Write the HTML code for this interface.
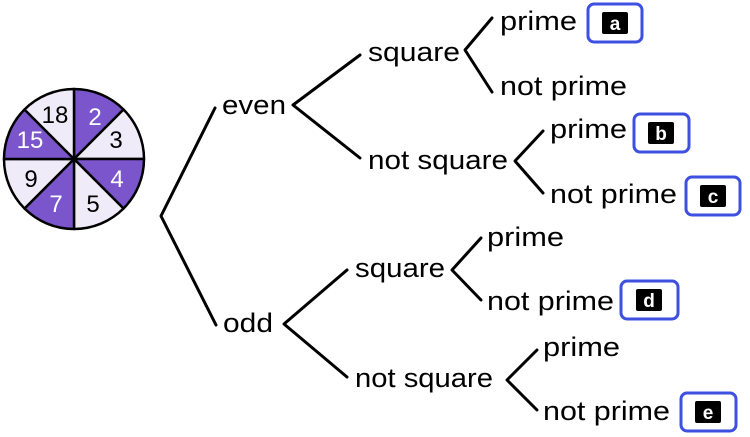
<!DOCTYPE html>
<html><head><style>
html,body{margin:0;padding:0;background:#fff;}
svg{display:block;}
text{font-family:"Liberation Sans",sans-serif;}
</style></head><body>
<svg width="750" height="437" viewBox="0 0 750 437" xmlns="http://www.w3.org/2000/svg">
<g stroke="#000" stroke-width="2.5" stroke-linejoin="round">
<path d="M74,159 L74,89 A70,70 0 0 1 123.5,109.5 Z" fill="#7b55cc"/>
<path d="M74,159 L123.5,109.5 A70,70 0 0 1 144,159 Z" fill="#efebf8"/>
<path d="M74,159 L144,159 A70,70 0 0 1 123.5,208.5 Z" fill="#7b55cc"/>
<path d="M74,159 L123.5,208.5 A70,70 0 0 1 74,229 Z" fill="#efebf8"/>
<path d="M74,159 L74,229 A70,70 0 0 1 24.5,208.5 Z" fill="#7b55cc"/>
<path d="M74,159 L24.5,208.5 A70,70 0 0 1 4,159 Z" fill="#efebf8"/>
<path d="M74,159 L4,159 A70,70 0 0 1 24.5,109.5 Z" fill="#7b55cc"/>
<path d="M74,159 L24.5,109.5 A70,70 0 0 1 74,89 Z" fill="#efebf8"/>
</g>
<g font-size="24" text-anchor="middle">
<text x="95" y="125" fill="#fff">2</text>
<text x="116" y="148" fill="#000">3</text>
<text x="117" y="187" fill="#fff">4</text>
<text x="93" y="212" fill="#000">5</text>
<text x="56" y="212" fill="#fff">7</text>
<text x="31" y="187" fill="#000">9</text>
<text x="30" y="148" fill="#fff">15</text>
<text x="55" y="123" fill="#000">18</text>
</g>
<g stroke="#000" stroke-width="3" fill="none" stroke-linecap="round" stroke-linejoin="round">
<polyline points="215,108 161,216 216,325"/>
<polyline points="360,55 293,105 360,158"/>
<polyline points="492,18 465,50 492,92"/>
<polyline points="543,131 515,161 543,193"/>
<polyline points="347,270 284,324 347,377"/>
<polyline points="481,238 452,270 481,300"/>
<polyline points="537,350 507,380 537,410"/>
</g>
<g font-size="27" fill="#000">
<text x="222" y="114" textLength="64" lengthAdjust="spacingAndGlyphs">even</text>
<text x="368" y="61" textLength="92" lengthAdjust="spacingAndGlyphs">square</text>
<text x="368" y="169" textLength="140" lengthAdjust="spacingAndGlyphs">not square</text>
<text x="500" y="30" textLength="77" lengthAdjust="spacingAndGlyphs">prime</text>
<text x="500" y="95" textLength="127" lengthAdjust="spacingAndGlyphs">not prime</text>
<text x="550" y="138" textLength="77" lengthAdjust="spacingAndGlyphs">prime</text>
<text x="550" y="203" textLength="127" lengthAdjust="spacingAndGlyphs">not prime</text>
<text x="223" y="332" textLength="50" lengthAdjust="spacingAndGlyphs">odd</text>
<text x="355" y="277" textLength="90" lengthAdjust="spacingAndGlyphs">square</text>
<text x="355" y="387" textLength="138" lengthAdjust="spacingAndGlyphs">not square</text>
<text x="487" y="246" textLength="77" lengthAdjust="spacingAndGlyphs">prime</text>
<text x="487" y="310" textLength="127" lengthAdjust="spacingAndGlyphs">not prime</text>
<text x="543" y="356" textLength="77" lengthAdjust="spacingAndGlyphs">prime</text>
<text x="543" y="420" textLength="127" lengthAdjust="spacingAndGlyphs">not prime</text>
</g>
<g stroke="#3d50e0" stroke-width="3" fill="#fff">
<rect x="588" y="4" width="54" height="38" rx="6"/>
<rect x="634" y="114" width="55" height="38" rx="6"/>
<rect x="686" y="177" width="54" height="38" rx="6"/>
<rect x="621" y="281" width="57" height="38" rx="6"/>
<rect x="681" y="393" width="55" height="38" rx="6"/>
</g>
<g fill="#000">
<rect x="602" y="12" width="26" height="22" rx="2"/>
<rect x="648" y="122" width="26" height="22" rx="2"/>
<rect x="700" y="185" width="26" height="22" rx="2"/>
<rect x="636" y="289" width="26" height="22" rx="2"/>
<rect x="695" y="401" width="26" height="22" rx="2"/>
</g>
<g fill="#fff" font-size="19" font-weight="bold" text-anchor="middle">
<text x="615" y="30">a</text>
<text x="661" y="140">b</text>
<text x="713" y="203">c</text>
<text x="649" y="307">d</text>
<text x="708" y="419">e</text>
</g>
</svg>
</body></html>
